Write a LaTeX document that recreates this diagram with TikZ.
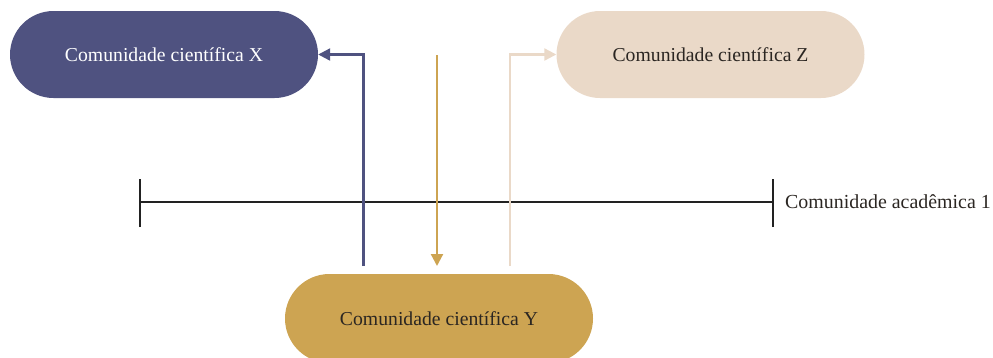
\documentclass[tikz,border=0pt]{standalone}
\usepackage{fontspec}
\setmainfont{Liberation Serif}
\usetikzlibrary{arrows.meta,shapes.misc}
\definecolor{cX}{HTML}{4F5280}
\definecolor{cY}{HTML}{CDA452}
\definecolor{cZ}{HTML}{EAD9C8}
\definecolor{txtdark}{HTML}{2B2622}
\definecolor{linedark}{HTML}{222222}
\tikzset{
  pill/.style={rounded rectangle, minimum width=308pt, minimum height=87pt, inner sep=0pt,
    font=\fontsize{19.7}{23}\selectfont},
  flow/.style={line width=2.2pt, -{Triangle[length=12pt,width=12pt]}},
  timeline/.style={line width=2.6pt, draw=linedark},
}
\begin{document}
\begin{tikzpicture}[x=1pt,y=-1pt]
\useasboundingbox (0,0) rectangle (993,357);
\node[pill, fill=cX, text=white] (X) at (164,54.5) {Comunidade científica X};
\node[pill, fill=cZ, text=txtdark] (Z) at (710.5,54.5) {Comunidade científica Z};
\node[pill, fill=cY, text=txtdark, minimum height=89pt] (Y) at (439,318.5) {Comunidade científica Y};
% timeline
\coordinate (tl) at (140,202);
\coordinate (tr) at (773,202);
\draw[timeline] (tl) -- (tr);
\draw[timeline] ([yshift=-25pt]tl) -- ([yshift=23pt]tl);
\draw[timeline] ([yshift=-25pt]tr) -- ([yshift=23pt]tr);
\node[anchor=west, text=txtdark, font=\fontsize{19.9}{23}\selectfont, inner sep=0pt] (acad) at ([xshift=12pt]tr) {Comunidade acadêmica 1};
% arrows
\coordinate (bstart) at (363.5,266);
\coordinate (gstart) at (437,55);
\coordinate (gend) at (437,266);
\coordinate (zstart) at (510,266);
\draw[flow, draw=cX] (bstart) |- (X.east);
\draw[flow, draw=cY] (gstart) -- (gend);
\draw[flow, draw=cZ] (zstart) |- (Z.west);
\end{tikzpicture}
\end{document}
